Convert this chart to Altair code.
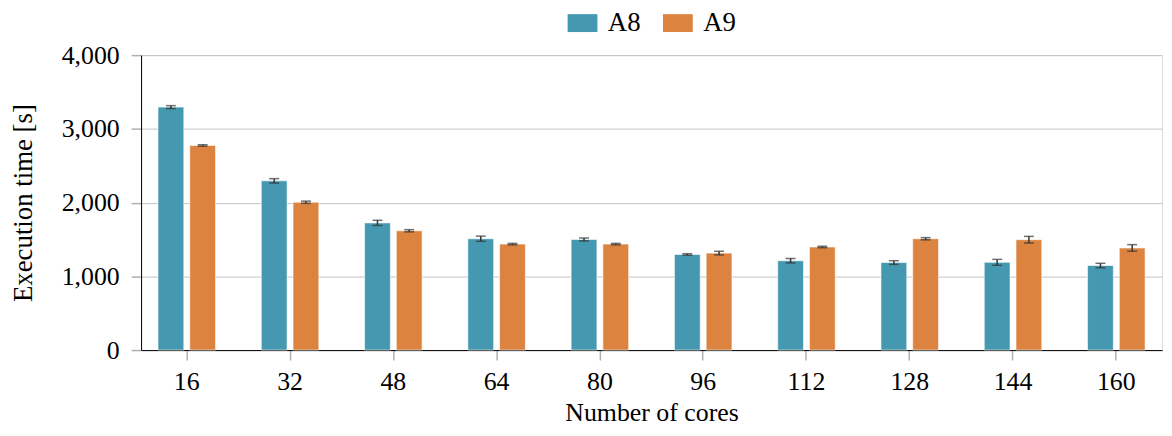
import altair as alt
import pandas as pd

cores = [16, 32, 48, 64, 80, 96, 112, 128, 144, 160]
a8 = [3295, 2295, 1725, 1510, 1500, 1297, 1212, 1187, 1190, 1147]
a8_err = [20, 30, 35, 35, 20, 10, 30, 25, 40, 30]
a9 = [2775, 2005, 1618, 1437, 1437, 1315, 1398, 1510, 1497, 1385]
a9_err = [10, 15, 15, 10, 10, 25, 10, 15, 45, 45]
series = ["A8", "A9"]
colors = ["#4499B0", "#DC843F"]
y_ticks = [0, 1000, 2000, 3000, 4000]

rows = []
for i, c in enumerate(cores):
    rows.append({"cores": str(c), "series": "A8", "value": a8[i],
                 "lo": a8[i] - a8_err[i], "hi": a8[i] + a8_err[i]})
    rows.append({"cores": str(c), "series": "A9", "value": a9[i],
                 "lo": a9[i] - a9_err[i], "hi": a9[i] + a9_err[i]})
df = pd.DataFrame(rows)

FONT = "Liberation Serif"
core_order = [str(c) for c in cores]

x = alt.X("cores:N", sort=core_order, title="Number of cores",
          scale=alt.Scale(paddingInner=0.385, paddingOuter=0.135),
          axis=alt.Axis(labelAngle=0, labelFontSize=26, titleFontSize=26,
                        tickSize=10, tickColor="#b0b0b0", tickWidth=1.5,
                        domainColor="black", labelPadding=9, titlePadding=5,
                        labelColor="black", titleColor="black",
                        labelFont=FONT, titleFont=FONT, titleFontWeight="normal"))
xo = alt.XOffset("series:N", scale=alt.Scale(paddingInner=0.1875, paddingOuter=0.094))

base = alt.Chart(df)

bars = base.mark_bar(stroke="white", strokeWidth=1, strokeOpacity=0.6).encode(
    x=x,
    xOffset=xo,
    y=alt.Y("value:Q", title="Execution time [s]",
            scale=alt.Scale(domain=[0, 4000], nice=False),
            axis=alt.Axis(values=y_ticks, format=",.0f", grid=True, gridColor="#c4c4c4",
                          gridWidth=1, tickSize=10, tickColor="#b0b0b0", tickWidth=1.5,
                          domainColor="black", labelFontSize=26, titleFontSize=27,
                          labelPadding=12, titlePadding=24,
                          labelColor="black", titleColor="black",
                          labelFont=FONT, titleFont=FONT, titleFontWeight="normal")),
    color=alt.Color("series:N", scale=alt.Scale(domain=series, range=colors),
                    legend=alt.Legend(title=None, orient="none", direction="horizontal",
                                      legendX=431, legendY=-46,
                                      symbolType="M-2,-1.2L2,-1.2L2,1.2L-2,1.2Z",
                                      symbolSize=225, symbolStrokeWidth=0, symbolOpacity=1,
                                      labelFontSize=27, labelFont=FONT, labelColor="black",
                                      labelOffset=12, columnPadding=22, padding=0)),
)

err = base.mark_rule(color="#333333", strokeWidth=1.5).encode(
    x=alt.X("cores:N", sort=core_order),
    xOffset=xo,
    y="lo:Q",
    y2="hi:Q",
)
cap_lo = base.mark_tick(color="#333333", thickness=1.5, size=10).encode(
    x=alt.X("cores:N", sort=core_order), xOffset=xo, y="lo:Q")
cap_hi = base.mark_tick(color="#333333", thickness=1.5, size=10).encode(
    x=alt.X("cores:N", sort=core_order), xOffset=xo, y="hi:Q")

chart = alt.layer(bars, err, cap_lo, cap_hi).properties(
    width=1028, height=297,
    autosize=alt.AutoSizeParams(type="none"),
    padding={"left": 134, "top": 46, "right": 2, "bottom": 77},
).configure_view(stroke="black", strokeWidth=1.2).configure(background="white", font=FONT)

chart.save("out.html", embed_options={"renderer": "svg", "actions": False})
